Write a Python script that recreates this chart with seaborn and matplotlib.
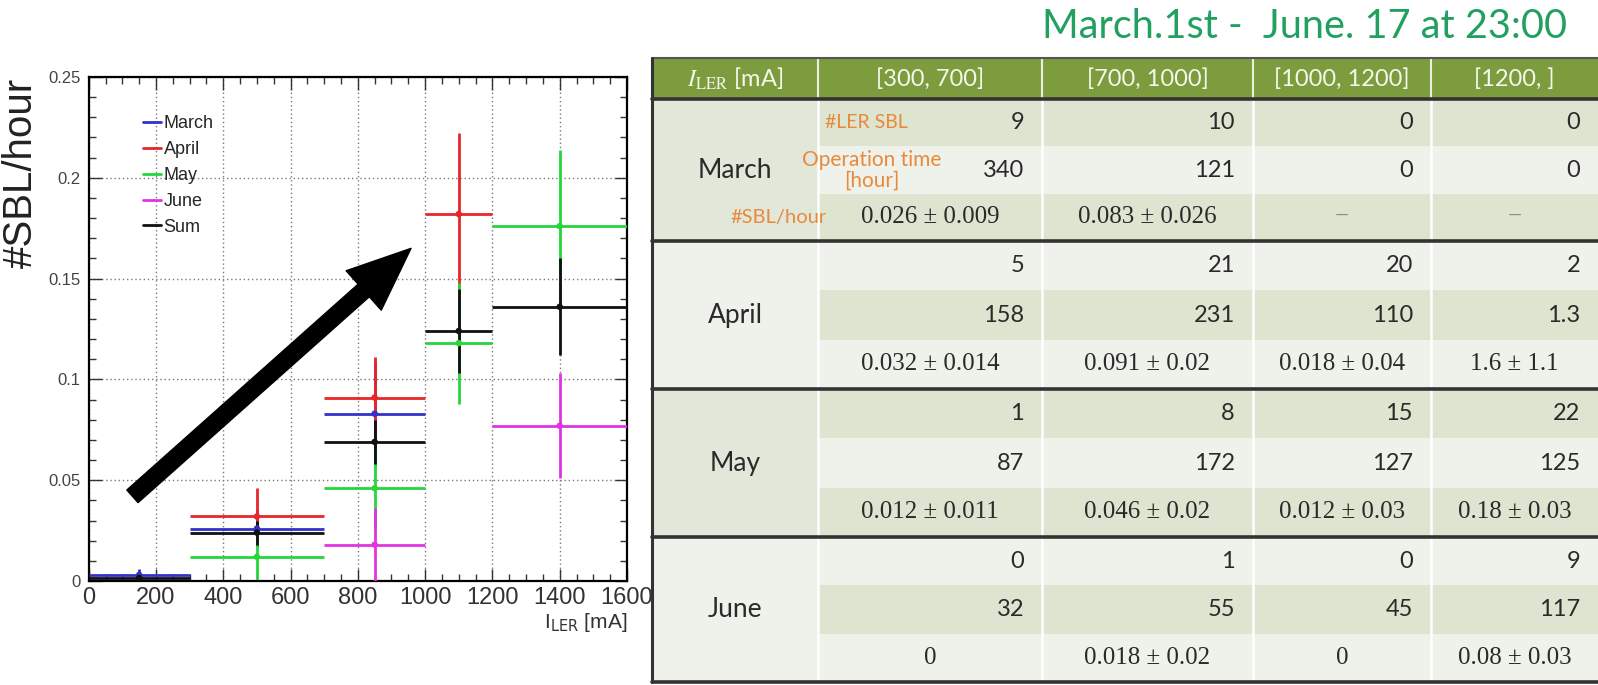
import numpy as np
import pandas as pd
import matplotlib
matplotlib.use("Agg")
import matplotlib.pyplot as plt
from matplotlib.lines import Line2D
from matplotlib.patches import Rectangle
from matplotlib.ticker import MultipleLocator, FixedLocator, FuncFormatter
import seaborn as sns

# ---------------- beam-loss rate per LER current bin ----------------
bin_lo = [0, 300, 700, 1000, 1200]
bin_hi = [300, 700, 1000, 1200, 1600]

series_names = ["March", "April", "May", "June", "Sum"]
series_colors = ["#3232c8", "#e8262a", "#26d63c", "#e034e0", "#111111"]

rate_march = [0.003, 0.026, 0.083, np.nan, np.nan]
err_march = [0.003, 0.009, 0.026, np.nan, np.nan]
rate_april = [np.nan, 0.032, 0.091, 0.182, np.nan]
err_april = [np.nan, 0.014, 0.020, 0.040, np.nan]
rate_may = [np.nan, 0.012, 0.046, 0.118, 0.176]
err_may = [np.nan, 0.011, 0.020, 0.030, 0.038]
rate_june = [np.nan, np.nan, 0.018, np.nan, 0.077]
err_june = [np.nan, np.nan, 0.018, np.nan, 0.026]
rate_sum = [0.0015, 0.024, 0.069, 0.124, 0.136]
err_sum = [0.0015, 0.006, 0.011, 0.021, 0.024]

x_ticks = [0, 200, 400, 600, 800, 1000, 1200, 1400, 1600]
y_ticks = [0, 0.05, 0.1, 0.15, 0.2, 0.25]

# ---------------- summary table ----------------
table_title = "March.1st -  June. 17 at 23:00"
current_ranges = ["[300, 700]", "[700, 1000]", "[1000, 1200]", "[1200, ]"]
months = ["March", "April", "May", "June"]
n_sbl = [["9", "10", "0", "0"],
         ["5", "21", "20", "2"],
         ["1", "8", "15", "22"],
         ["0", "1", "0", "9"]]
op_hours = [["340", "121", "0", "0"],
            ["158", "231", "110", "1.3"],
            ["87", "172", "127", "125"],
            ["32", "55", "45", "117"]]
sbl_rate = [["0.026 ± 0.009", "0.083 ± 0.026", "−", "−"],
            ["0.032 ± 0.014", "0.091 ± 0.02", "0.018 ± 0.04", "1.6 ± 1.1"],
            ["0.012 ± 0.011", "0.046 ± 0.02", "0.012 ± 0.03", "0.18 ± 0.03"],
            ["0", "0.018 ± 0.02", "0", "0.08 ± 0.03"]]
row_labels = ["#LER SBL", "Operation time\n[hour]", "#SBL/hour"]

# ---------------- build long-form data ----------------
records = []
all_rates = [rate_march, rate_april, rate_may, rate_june, rate_sum]
all_errs = [err_march, err_april, err_may, err_june, err_sum]
for name, rates, errs in zip(series_names, all_rates, all_errs):
    for lo, hi, v, e in zip(bin_lo, bin_hi, rates, errs):
        if np.isnan(v):
            continue
        records.append(dict(series=name, x=(lo + hi) / 2, half=(hi - lo) / 2,
                            rate=v, err=e))
df = pd.DataFrame(records)
palette = dict(zip(series_names, series_colors))

# ---------------- figure ----------------
W, H = 1598, 685
sns.set_theme(style="ticks")
plt.rcParams["font.family"] = ["Liberation Sans", "DejaVu Sans"]

fig = plt.figure(figsize=(W / 100, H / 100), dpi=100)
fig.patch.set_facecolor("white")

L, R, T, B = 88.7, 627, 77, 581
ax = fig.add_axes([L / W, 1 - B / H, (R - L) / W, (B - T) / H])

for name in series_names:
    sub = df[df.series == name]
    ax.errorbar(sub.x, sub.rate, xerr=sub.half, yerr=sub.err, fmt="none",
                ecolor=palette[name], elinewidth=2.0, capsize=0, zorder=3)
sns.scatterplot(data=df, x="x", y="rate", hue="series", palette=palette,
                s=22, edgecolor="none", legend=False, ax=ax, zorder=4)

ax.set_xlim(0, 1600)
ax.set_ylim(0, 0.25)
ax.xaxis.set_major_locator(FixedLocator(x_ticks))
ax.yaxis.set_major_locator(FixedLocator(y_ticks))
ax.xaxis.set_minor_locator(MultipleLocator(50))
ax.yaxis.set_minor_locator(MultipleLocator(0.01))
ax.yaxis.set_major_formatter(FuncFormatter(lambda v, p: f"{v:g}"))
ax.xaxis.set_major_formatter(FuncFormatter(lambda v, p: f"{v:g}"))
ax.set_xlabel("")
ax.set_ylabel("")
ax.grid(True, which="major", ls=(0, (1, 2)), color="#7a7a7a", lw=1.0)
for sp in ax.spines.values():
    sp.set_visible(True)
    sp.set_color("black")
    sp.set_linewidth(1.6)
ax.tick_params(which="both", direction="in", top=True, right=True,
               color="#333333", width=1.0)
ax.tick_params(which="major", length=9)
ax.tick_params(which="minor", length=5)
ax.tick_params(axis="x", labelsize=17, pad=4, labelcolor="#333333")
ax.tick_params(axis="y", labelsize=12, pad=6, labelcolor="#444444")

handles = [Line2D([0], [0], color=c, lw=2) for c in series_colors]
ax.legend(handles, series_names, loc="upper left", bbox_to_anchor=(0.1, 0.924),
          frameon=False, fontsize=13, handlelength=1.05, handletextpad=0.12,
          labelspacing=0.49, borderpad=0, borderaxespad=0)

ax.annotate("", xy=(958, 0.165), xytext=(130, 0.042),
            arrowprops=dict(arrowstyle="simple,head_length=0.6,head_width=0.5,tail_width=0.16",
                            mutation_scale=76, color="black", shrinkA=0, shrinkB=0),
            zorder=6)

fig.text(21 / W, 1 - 173 / H, "#SBL/hour", rotation=90, ha="center",
         va="center", fontsize=29, color="#222222")
fig.text(627 / W, 1 - 622 / H, r"I$_{\mathsf{LER}}$ [mA]", ha="right",
         va="center", fontsize=15, color="#333333")

# ---------------- table drawn in pixel coordinates ----------------
tb = fig.add_axes([0, 0, 1, 1], zorder=5)
tb.set_xlim(0, W)
tb.set_ylim(H, 0)
tb.axis("off")
tb.patch.set_visible(False)

col_edges = [652, 818, 1042, 1253, 1431, 1598]
head_top, head_bot = 58, 99
block_edges = [99, 241, 389, 537, 682]
c_head = "#7d9c3e"
c_mid = "#dde4cf"
c_light = "#eef2ea"
c_month_mid = "#e2e8d9"
c_month_light = "#eef2eb"
c_text = "#2a2a2a"
c_orange = "#e8893c"
num_font = ["Lato", "DejaVu Sans"]
serif_font = ["Liberation Serif", "DejaVu Serif"]

tb.add_patch(Rectangle((col_edges[0], head_top), col_edges[-1] - col_edges[0],
                       head_bot - head_top, color=c_head, lw=0))
for b in range(len(months)):
    y0, y1 = block_edges[b], block_edges[b + 1]
    sub_h = (y1 - y0) / 3
    tb.add_patch(Rectangle((col_edges[0], y0), col_edges[1] - col_edges[0], y1 - y0,
                           color=c_month_mid if b % 2 == 0 else c_month_light, lw=0))
    for r in range(3):
        idx = 3 * b + r
        tb.add_patch(Rectangle((col_edges[1], y0 + r * sub_h),
                               col_edges[-1] - col_edges[1], sub_h,
                               color=c_mid if idx % 2 == 0 else c_light, lw=0))

# column separators
for xe in col_edges[1:-1]:
    tb.plot([xe, xe], [head_top, head_bot], color="#e9efdc", lw=1.5)
    tb.plot([xe, xe], [head_bot, block_edges[-1]], color="white", lw=1.8)

# block rules and border
tb.plot([col_edges[0], col_edges[-1]], [head_top, head_top], color="#555555", lw=1.5)
for ye in block_edges:
    tb.plot([col_edges[0], col_edges[-1]], [ye, ye], color="#333333", lw=2.6)
tb.plot([col_edges[0], col_edges[0]], [head_top, block_edges[-1]], color="#333333", lw=2.2)

# header text
hy = (head_top + head_bot) / 2
tb.text((col_edges[0] + col_edges[1]) / 2, hy, r"$I_{\mathrm{LER}}$ [mA]",
        ha="center", va="center", fontsize=17, color="#f4f7ec", family=num_font,
        math_fontfamily="stix")
for j, lab in enumerate(current_ranges):
    tb.text((col_edges[j + 1] + col_edges[j + 2]) / 2, hy, lab, ha="center",
            va="center", fontsize=17, color="#f4f7ec", family=num_font)

# body text
for b, month in enumerate(months):
    y0, y1 = block_edges[b], block_edges[b + 1]
    sub_h = (y1 - y0) / 3
    tb.text((col_edges[0] + col_edges[1]) / 2, (y0 + y1) / 2, month, ha="center",
            va="center", fontsize=19, color=c_text, family=num_font)
    for j in range(4):
        xr = col_edges[j + 2] - 18
        xc = (col_edges[j + 1] + col_edges[j + 2]) / 2
        tb.text(xr, y0 + 0.5 * sub_h, n_sbl[b][j], ha="right", va="center",
                fontsize=17, color=c_text, family=num_font)
        tb.text(xr, y0 + 1.5 * sub_h, op_hours[b][j], ha="right", va="center",
                fontsize=17, color=c_text, family=num_font)
        rate = sbl_rate[b][j]
        tb.text(xc, y0 + 2.5 * sub_h, rate, ha="center", va="center",
                fontsize=18, color="#8a8a8a" if rate == "−" else c_text,
                family=serif_font)

# row descriptions in the first block
yb = block_edges[0]
sh = (block_edges[1] - block_edges[0]) / 3
tb.text(825, yb + 0.5 * sh, row_labels[0], ha="left", va="center",
        fontsize=14, color=c_orange, family=num_font)
tb.text(872, yb + 1.5 * sh, row_labels[1], ha="center", va="center",
        fontsize=15, color=c_orange, family=num_font, linespacing=1.05)
tb.text(827, yb + 2.5 * sh, row_labels[2], ha="right", va="center",
        fontsize=14.5, color=c_orange, family=num_font)

tb.text(1567, 26, table_title, ha="right", va="center", fontsize=28.5,
        color="#22a060", family=num_font)

fig.savefig("out.png", dpi=100)
